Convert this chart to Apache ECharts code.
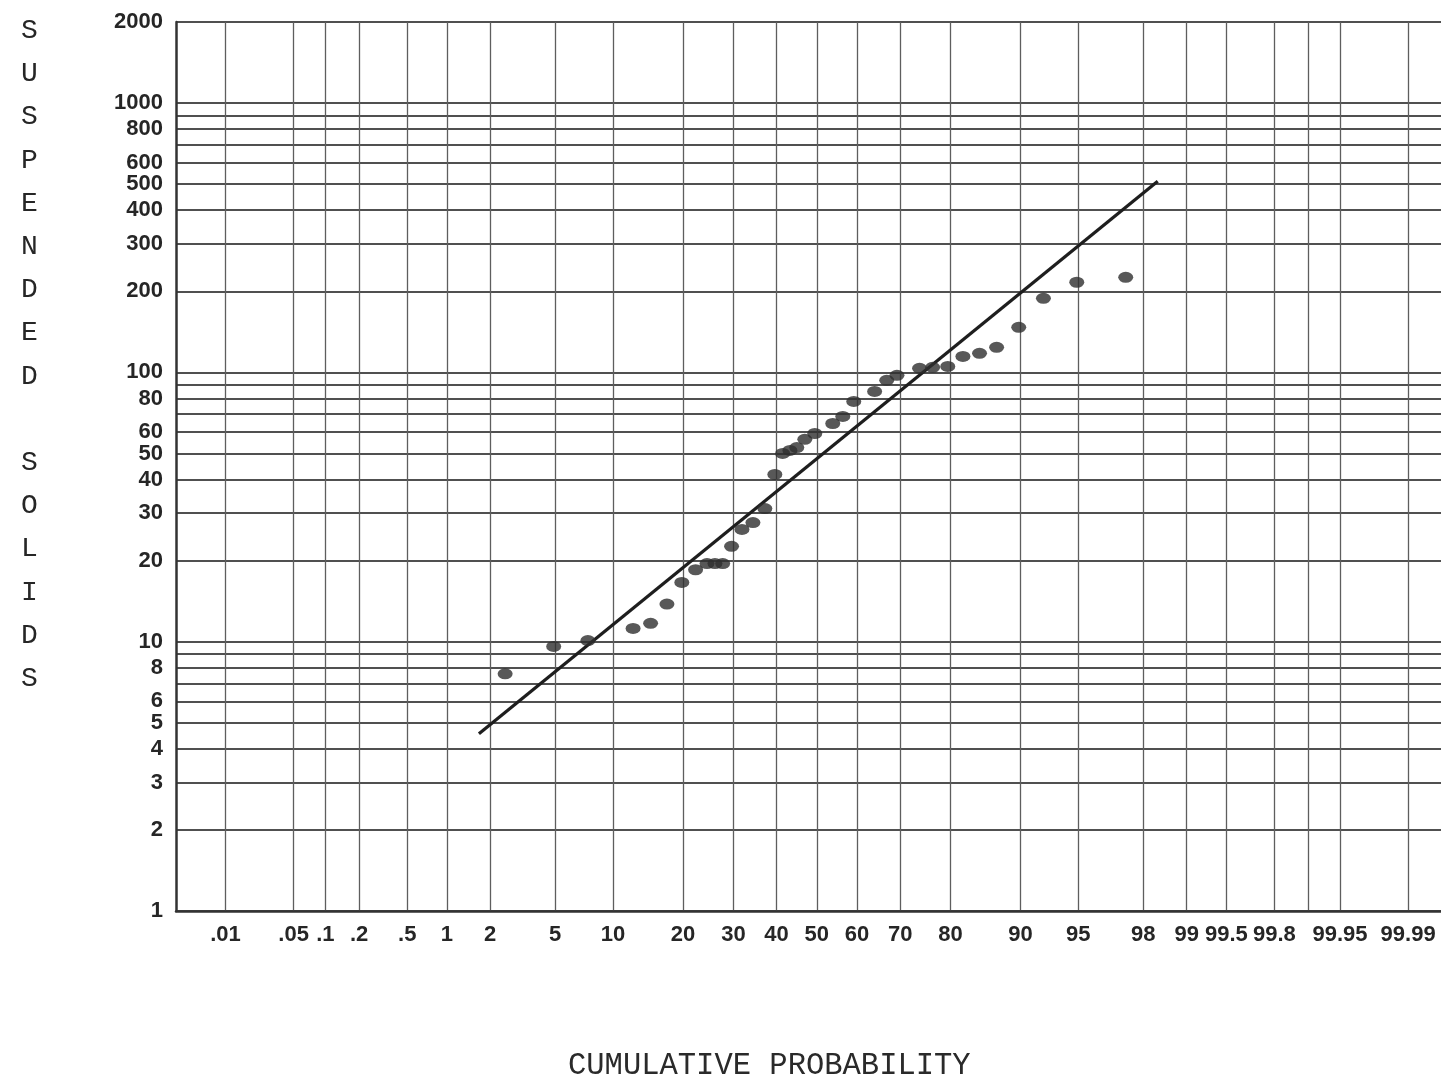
<!DOCTYPE html>
<html><head><meta charset="utf-8">
<script src="https://cdn.jsdelivr.net/npm/echarts@6.0.0/dist/echarts.min.js"></script>
<style>html,body{margin:0;padding:0;background:#fff}#chart{width:1441px;height:1083px}</style>
</head><body><div id="chart"></div>
<script>
// Probability-paper tick positions (percent) and their printed labels
const probTicks = [0.01,0.05,0.1,0.2,0.5,1,2,5,10,20,30,40,50,60,70,80,90,95,98,99,99.5,99.8,99.9,99.95,99.99];
const probTickLabels = ['.01','.05','.1','.2','.5','1','2','5','10','20','30','40','50','60','70','80','90','95','98','99','99.5','99.8','','99.95','99.99'];
// Log axis grid lines and labelled values
const yGridValues = [1,2,3,4,5,6,7,8,9,10,20,30,40,50,60,70,80,90,100,200,300,400,500,600,700,800,900,1000,2000];
const yLabelValues = [1,2,3,4,5,6,8,10,20,30,40,50,60,80,100,200,300,400,500,600,800,1000,2000];
// Observed points: cumulative probability (%) and suspended solids
const obsProb = [2.5,4.9,7.5,12.4,14.8,17.3,19.8,22.3,24.5,26.1,27.7,29.6,31.9,34.4,37.2,39.6,41.5,43.3,45.0,47.0,49.5,54.0,56.5,59.2,64.2,67.0,69.3,74.1,76.7,79.5,82.1,84.7,87.1,89.8,92.3,94.9,97.4];
const obsSolids = [7.6,9.6,10.1,11.2,11.7,13.8,16.6,18.5,19.5,19.5,19.5,22.6,26.1,27.7,31.2,41.8,50.0,51.3,52.6,56.4,59.3,64.6,68.6,78.0,85.0,93.4,97.5,103.5,104.4,105.2,114.6,117.7,123.9,147.0,188.4,216.1,225.5];
// Fitted lognormal line end points
const fitProb = [1.68, 98.4];
const fitSolids = [4.55, 513];

// normal-probability scale transform (probit)
function probit(p){
  const a=[-3.969683028665376e+01,2.209460984245205e+02,-2.759285104469687e+02,1.383577518672690e+02,-3.066479806614716e+01,2.506628277459239e+00];
  const b=[-5.447609879822406e+01,1.615858368580409e+02,-1.556989798598866e+02,6.680131188771972e+01,-1.328068155288572e+01];
  const c=[-7.784894002430293e-03,-3.223964580411365e-01,-2.400758277161838e+00,-2.549732539343734e+00,4.374664141464968e+00,2.938163982698783e+00];
  const d=[7.784695709041462e-03,3.224671290700398e-01,2.445134137142996e+00,3.754408661907416e+00];
  const pl=0.02425, ph=1-pl; let q,r;
  if(p<pl){q=Math.sqrt(-2*Math.log(p));return (((((c[0]*q+c[1])*q+c[2])*q+c[3])*q+c[4])*q+c[5])/((((d[0]*q+d[1])*q+d[2])*q+d[3])*q+1);}
  if(p<=ph){q=p-0.5;r=q*q;return (((((a[0]*r+a[1])*r+a[2])*r+a[3])*r+a[4])*r+a[5])*q/(((((b[0]*r+b[1])*r+b[2])*r+b[3])*r+b[4])*r+1);}
  q=Math.sqrt(-2*Math.log(1-p));return -(((((c[0]*q+c[1])*q+c[2])*q+c[3])*q+c[4])*q+c[5])/((((d[0]*q+d[1])*q+d[2])*q+d[3])*q+1);
}
const zOf = pct => probit(pct/100);
const tickZ = probTicks.map(zOf);
const labelZ = tickZ.filter((z,i)=>probTickLabels[i] !== '');

const chart = echarts.init(document.getElementById('chart'), null, {renderer:'canvas'});
const labelFont = {fontFamily:'"Liberation Sans Narrow", "Liberation Sans", sans-serif', fontWeight:'bold', fontSize:22, color:'#262626'};
chart.setOption({
  backgroundColor:'#ffffff',
  animation:false,
  grid:{left:176, right:0, top:22, bottom:172, containLabel:false},
  xAxis:{
    type:'value', min:-4.03, max:3.926,
    axisLine:{show:true, onZero:false, lineStyle:{color:'#333', width:2.5}},
    axisTick:{show:false, customValues:tickZ},
    splitLine:{show:true, lineStyle:{color:'#5e5e5e', width:1.3}},
    axisLabel:Object.assign({margin:13, customValues:labelZ, formatter:function(v){
      let best=0, bd=1e9; tickZ.forEach((z,i)=>{const dd=Math.abs(z-v); if(dd<bd){bd=dd;best=i;}});
      return probTickLabels[best];
    }}, labelFont)
  },
  yAxis:{
    type:'log', logBase:10, min:1, max:2000,
    axisLine:{show:true, onZero:false, lineStyle:{color:'#333', width:2.5}},
    axisTick:{show:false, customValues:yGridValues},
    splitLine:{show:true, lineStyle:{color:'#505050', width:2}},
    minorSplitLine:{show:false},
    axisLabel:Object.assign({margin:13, customValues:yLabelValues, formatter:function(v){return String(Math.round(v));}}, labelFont)
  },
  graphic:[
    {type:'text', left:21, top:9, style:{text:'S\nU\nS\nP\nE\nN\nD\nE\nD\n\nS\nO\nL\nI\nD\nS', font:'28px "Liberation Mono", monospace', lineHeight:43.2, fill:'#262626', align:'center'}},
    {type:'text', left:568, top:1050, style:{text:'CUMULATIVE PROBABILITY', font:'30.5px "Liberation Mono", monospace', fill:'#2a2a2a'}}
  ],
  series:[
    {type:'line', data:fitProb.map((p,i)=>[zOf(p), fitSolids[i]]), symbol:'none', lineStyle:{color:'#1e1e1e', width:3.2}, z:3},
    {type:'scatter', data:obsProb.map((p,i)=>[zOf(p), obsSolids[i]]), symbol:'circle', symbolSize:[15,11], itemStyle:{color:'#2e2e2e'}, z:4}
  ]
});
</script></body></html>
